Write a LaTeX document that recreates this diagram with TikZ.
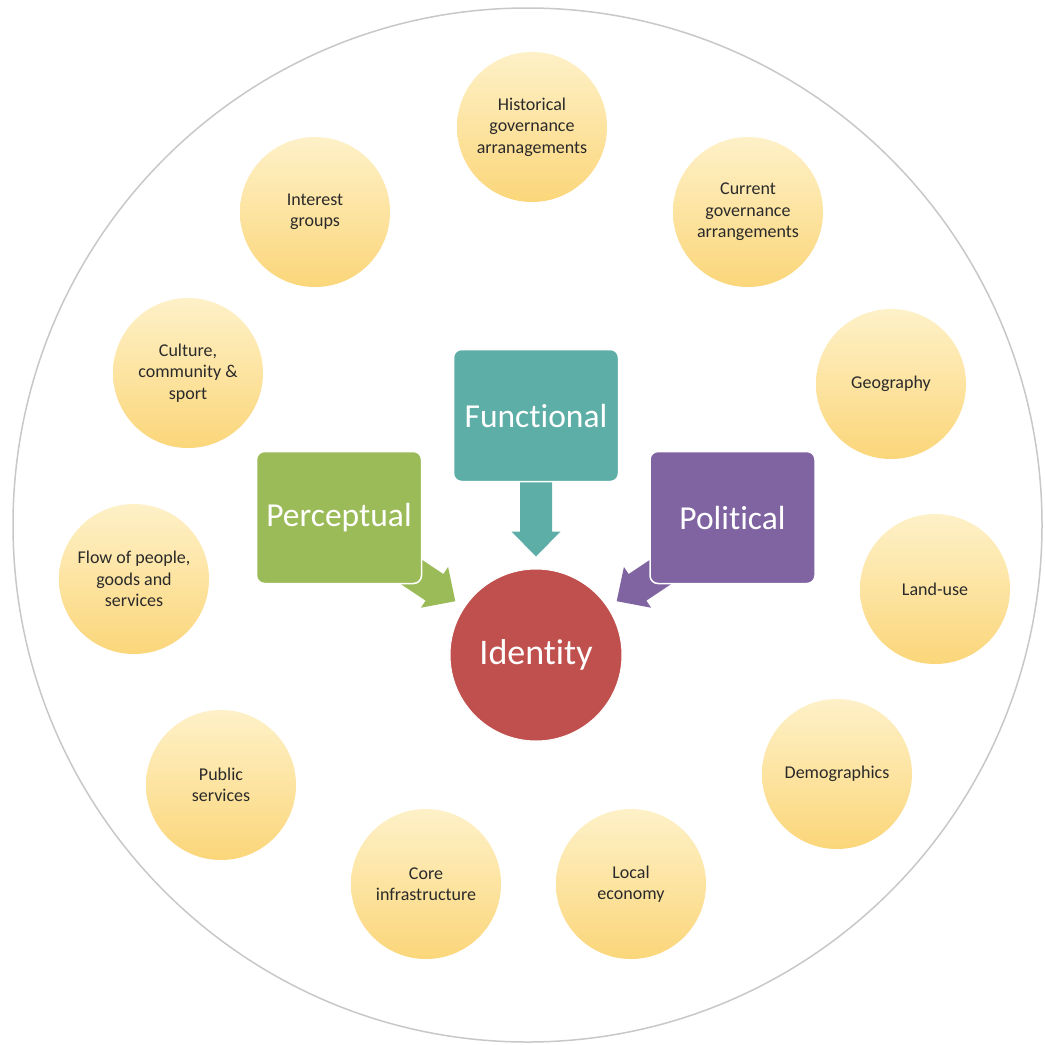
\documentclass[tikz,border=0pt]{standalone}
\usepackage{fontspec}
\setmainfont{Carlito}[Ligatures={NoCommon,NoRare}]
\usetikzlibrary{calc}
\definecolor{ringgray}{HTML}{C8C8C8}
\definecolor{ytop}{HTML}{FEF1C8}
\definecolor{ybot}{HTML}{FBD67A}
\definecolor{cteal}{HTML}{5DAEA7}
\definecolor{cgreen}{HTML}{9BBB59}
\definecolor{cpurple}{HTML}{8064A2}
\definecolor{cred}{HTML}{C0504D}
\definecolor{txtdark}{HTML}{2A2A2A}
\tikzset{
  factor/.style={circle, minimum size=150pt, inner sep=0pt, top color=ytop, bottom color=ybot,
    draw=none, align=center, text=txtdark, font=\fontsize{18pt}{21.5pt}\selectfont},
  lens/.style={rounded corners=8pt, minimum width=165pt, minimum height=132pt, inner sep=0pt,
    draw=white, line width=1.5pt, text=white, font=\fontsize{33.5pt}{40pt}\selectfont},
  core/.style={circle, minimum size=172pt, inner sep=0pt, fill=cred, draw=white, line width=1pt,
    text=white, font=\fontsize{36pt}{42pt}\selectfont},
}
% block arrow: #1 start, #2 tip, #3 colour
\newcommand\blockarrow[3]{%
  \coordinate (hb) at ($(#2)!25pt!(#1)$);
  \fill[#3] ($(#1)!16pt!90:(#2)$) -- ($(hb)!16pt!90:(#2)$) -- ($(hb)!24.5pt!90:(#2)$) -- (#2)
    -- ($(hb)!24.5pt!-90:(#2)$) -- ($(hb)!16pt!-90:(#2)$) -- ($(#1)!16pt!-90:(#2)$) -- cycle;}
\begin{document}
\begin{tikzpicture}[x=1pt,y=-1pt]
\useasboundingbox (0,0) rectangle (1045,1045);
\fill[white] (0,0) rectangle (1045,1045);
\draw[ringgray, line width=1.5pt] (527.5,525) ellipse [x radius=514.5, y radius=517];

\node[factor] (hist) at (532,127) {Historical\\governance\\arranagements};
\node[factor] (inter) at (315,212) {Interest\\groups};
\node[factor] (curr) at (748,212) {Current\\governance\\arrangements};
\node[factor] (cult) at (188,373) {Culture,\\community \&\\sport};
\node[factor] (geo) at (891,384) {Geography};
\node[factor] (flow) at (134,579) {Flow of people,\\goods and\\services};
\node[factor] (land) at (935,589) {Land-use};
\node[factor] (pub) at (221,785) {Public\\services};
\node[factor] (demo) at (837,774) {Demographics};
\node[factor] (infra) at (426,884) {Core\\infrastructure};
\node[factor] (econ) at (631,884) {Local\\economy};

\node[core] (id) at (536,655) {Identity};

\coordinate (ps) at (407,569);
\coordinate (ls) at (665,569);
\coordinate (fs) at (536,475);
\coordinate (ft) at ($(id.north)+(0,-12)$);
\coordinate (pt) at ($(id.center)!97pt!(407,569)$);
\coordinate (lt) at ($(id.center)!97pt!(665,569)$);
\blockarrow{fs}{ft}{cteal}
\blockarrow{ps}{pt}{cgreen}
\blockarrow{ls}{lt}{cpurple}

\node[lens, fill=cteal] (func) at (536,415.5) {Functional};
\node[lens, fill=cgreen] (perc) at (339,517.5) {Perceptual};
\node[lens, fill=cpurple] (pol) at (732.5,517.5) {Political};
\end{tikzpicture}
\end{document}
